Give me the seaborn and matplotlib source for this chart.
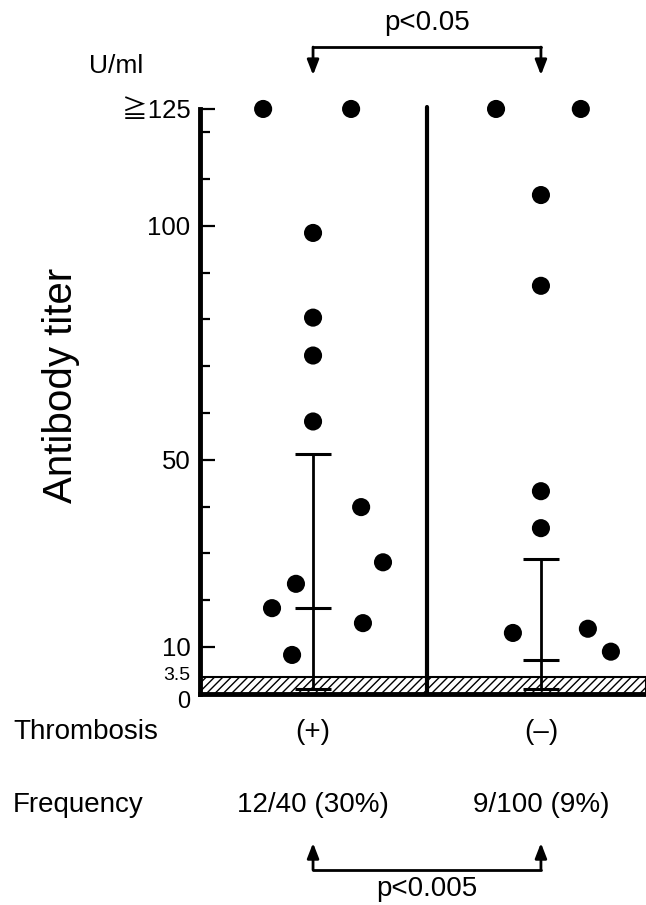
import numpy as np
import pandas as pd
import matplotlib
matplotlib.use("Agg")
import matplotlib.pyplot as plt
import matplotlib.transforms as mtransforms
import seaborn as sns

# antibody titer (U/ml) per patient, values >=125 drawn at 125
plus_vals = [125, 125, 98.5, 80.4, 72.3, 58.2, 39.9, 28.1, 23.5, 18.3, 15.1, 8.3]
plus_offsets = [-0.219, 0.167, 0, 0, 0, 0, 0.211, 0.307, -0.075, -0.180, 0.219, -0.092]
minus_vals = [125, 125, 106.6, 87.2, 43.3, 35.4, 13.0, 13.9, 9.0]
minus_offsets = [-0.197, 0.175, 0, 0, 0, 0, -0.123, 0.206, 0.307]

groups = ["(+)", "(–)"]
frequencies = ["12/40 (30%)", "9/100 (9%)"]
centers = [18.3, 7.2]
upper = [51.2, 28.8]
lower = [1.1, 1.1]
cutoff = 3.5

ytick_vals = [0, 3.5, 10, 50, 100, 125]
ytick_labels = ["0", "3.5", "10", "50", "100", "≧125"]
minor_vals = [20, 30, 40, 60, 70, 80, 90, 110, 120]

df = pd.DataFrame({
    "x": [0 + o for o in plus_offsets] + [1 + o for o in minus_offsets],
    "titer": plus_vals + minus_vals,
    "group": [groups[0]] * len(plus_vals) + [groups[1]] * len(minus_vals),
})

sns.set_style("ticks")
plt.rcParams["font.family"] = ["Liberation Sans", "Noto Sans CJK JP", "DejaVu Sans"]
plt.rcParams["hatch.linewidth"] = 1.0
for k in ["text.color", "axes.labelcolor", "xtick.color", "ytick.color", "axes.edgecolor"]:
    plt.rcParams[k] = "black"

fig = plt.figure(figsize=(6.46, 9.05), dpi=100)
ax = fig.add_axes([0.3096, 0.2334, 1 - 0.3096, 0.6462])

# cutoff band
ax.axhspan(0, cutoff, facecolor="white", edgecolor="black", hatch="////", lw=1.5, zorder=1)

sns.scatterplot(data=df, x="x", y="titer", color="black", s=170, edgecolor="none",
                ax=ax, legend=False, zorder=4, clip_on=False)

# error bars and centre marks
xs = np.arange(len(groups))
yerr = [np.array(centers) - np.array(lower), np.array(upper) - np.array(centers)]
ax.errorbar(xs, centers, yerr=yerr, fmt="none", ecolor="black", elinewidth=2,
            capsize=13, capthick=2.2, zorder=3)
ax.plot(xs, centers, ls="none", marker="_", markersize=26.6, mew=2.2, color="black", zorder=3)

# divider between groups
ax.plot([0.5, 0.5], [0, 125.4], color="black", lw=3, clip_on=False, zorder=2)

ax.set_xlim(-0.496, 1.461)
ax.set_ylim(0, 125)
sns.despine(ax=ax)
ax.spines["left"].set_linewidth(3.5)
ax.spines["bottom"].set_linewidth(3.5)

ax.set_xticks([])
ax.set_xlabel("")
ax.set_yticks(ytick_vals)
ax.set_yticklabels(ytick_labels)
ax.set_yticks(minor_vals, minor=True)
ax.tick_params(axis="y", which="major", direction="in", length=11, width=1.6,
               labelsize=18.5, pad=7)
ax.tick_params(axis="y", which="minor", direction="in", length=7, width=1.6)
for t in ax.yaxis.get_major_ticks()[:2]:
    t.tick1line.set_visible(False)
ylabels = ax.get_yticklabels()
ylabels[0].set_fontsize(17)
ylabels[1].set_fontsize(14)
ylabels[0].set_transform(ylabels[0].get_transform()
                         + mtransforms.ScaledTranslation(0, -4 / 72, fig.dpi_scale_trans))
ylabels[1].set_transform(ylabels[1].get_transform()
                         + mtransforms.ScaledTranslation(0, 3 / 72, fig.dpi_scale_trans))
ax.set_ylabel("")

fig.text(0.095, 0.5746, "Antibody titer", rotation=90, fontsize=29, ha="center", va="center")
fig.text(0.180, 0.927, "U/ml", fontsize=19, ha="center", va="center")

# category rows under the axis
mix = mtransforms.blended_transform_factory(ax.transData, fig.transFigure)
fig.text(0.020, 0.1915, "Thrombosis", fontsize=20, ha="left", va="center")
fig.text(0.020, 0.1105, "Frequency", fontsize=20, ha="left", va="center")
for i in range(len(groups)):
    ax.text(xs[i], 0.1915, groups[i], transform=mix, fontsize=20, ha="center", va="center")
    ax.text(xs[i], 0.1105, frequencies[i], transform=mix, fontsize=20, ha="center", va="center")


def bracket(y_line, y_tip, label, y_label):
    ax.plot(xs, [y_line, y_line], transform=mix, color="black", lw=2, clip_on=False)
    for xv in xs:
        ax.annotate("", xy=(xv, y_tip), xytext=(xv, y_line),
                    xycoords=mix, textcoords=mix,
                    arrowprops=dict(arrowstyle="-|>,head_length=0.9,head_width=0.35",
                                    lw=2, color="black", shrinkA=0, shrinkB=0))
    ax.text(xs.mean(), y_label, label, transform=mix, fontsize=20, ha="center", va="center")


bracket(0.948, 0.917, "p<0.05", 0.975)
bracket(0.0387, 0.0685, "p<0.005", 0.0177)

fig.savefig("out.png", dpi=100)
